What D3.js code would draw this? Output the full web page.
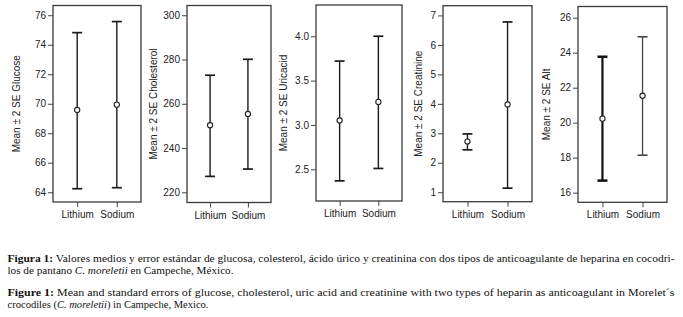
<!DOCTYPE html>
<html>
<head>
<meta charset="utf-8">
<script src="https://cdn.jsdelivr.net/npm/d3@7"></script>
<style>
  body { margin: 0; background: #fff; }
  svg { display: block; }
</style>
</head>
<body>
<svg id="chart" width="683" height="317"></svg>
<script>
// groups on the x axis of every panel
const groups = ["Lithium", "Sodium"];

// mean, lower (mean - 2SE) and upper (mean + 2SE)
const glucoseMean = [69.58, 69.94];
const glucoseLow = [64.24, 64.31];
const glucoseHigh = [74.82, 75.57];

const cholesterolMean = [250.3, 255.4];
const cholesterolLow = [227.2, 230.5];
const cholesterolHigh = [272.9, 280.1];

const uricMean = [3.05, 3.26];
const uricLow = [2.37, 2.51];
const uricHigh = [3.72, 4.0];

const creatinineMean = [2.72, 3.98];
const creatinineLow = [2.44, 1.14];
const creatinineHigh = [2.98, 6.78];

const altMean = [20.23, 21.54];
const altLow = [16.69, 18.14];
const altHigh = [23.77, 24.91];

// tick labels
const glucoseTicks = [64, 66, 68, 70, 72, 74, 76];
const cholesterolTicks = [220, 240, 260, 280, 300];
const uricTicks = [2.5, 3.0, 3.5, 4.0];
const creatinineTicks = [1, 2, 3, 4, 5, 6, 7];
const altTicks = [16, 18, 20, 22, 24, 26];

const yLabels = ["Mean \u00b1 2 SE Glucose", "Mean \u00b1 2 SE Cholesterol",
  "Mean \u00b1 2 SE Uricacid", "Mean \u00b1 2 SE Creatinine", "Mean \u00b1 2 SE Alt"];

const svg = d3.select("#chart");

// layout of each little panel
const panels = [
  {x0: 53, x1: 141, y0: 5.5, y1: 202, domain: [63.34, 76.66], ticks: glucoseTicks, fmt: d3.format("d"), lab: 33,
   mean: glucoseMean, lo: glucoseLow, hi: glucoseHigh},
  {x0: 187, x1: 271, y0: 5.5, y1: 202.5, domain: [215.4, 304.4], ticks: cholesterolTicks, fmt: d3.format("d"), lab: 30,
   mean: cholesterolMean, lo: cholesterolLow, hi: cholesterolHigh},
  {x0: 316, x1: 402, y0: 5, y1: 201, domain: [2.143, 4.352], ticks: uricTicks, fmt: d3.format(".1f"), lab: 29,
   mean: uricMean, lo: uricLow, hi: uricHigh},
  {x0: 443, x1: 532, y0: 5.7, y1: 201.7, domain: [0.68, 7.33], ticks: creatinineTicks, fmt: d3.format("d"), lab: 21,
   mean: creatinineMean, lo: creatinineLow, hi: creatinineHigh},
  {x0: 578, x1: 667, y0: 6.5, y1: 202.3, domain: [15.45, 26.64], ticks: altTicks, fmt: d3.format("d"), lab: 28,
   mean: altMean, lo: altLow, hi: altHigh, styles: [{c: "#111", w: 2.2}, {c: "#444", w: 1.3}]}
];

panels.forEach((p, i) => {
  const y = d3.scaleLinear().domain(p.domain).range([p.y1, p.y0]);
  const x = d3.scalePoint().domain(groups).range([p.x0, p.x1]).padding(0.61);
  const g = svg.append("g");

  // y axis
  const ya = g.append("g")
    .attr("transform", `translate(${p.x0},0)`)
    .call(d3.axisLeft(y).tickValues(p.ticks).tickFormat(p.fmt).tickSize(5).tickPadding(2));
  ya.select(".domain").remove();
  ya.selectAll("line").attr("stroke", "#444");
  ya.selectAll("text").attr("font-family", "Liberation Sans, Arial, sans-serif")
    .attr("font-size", 10).attr("fill", "#222");

  // x axis
  const xa = g.append("g")
    .attr("transform", `translate(0,${p.y1})`)
    .call(d3.axisBottom(x).tickSize(5).tickPadding(4));
  xa.select(".domain").remove();
  xa.selectAll("line").attr("stroke", "#444");
  xa.selectAll("text").attr("font-family", "Liberation Sans, Arial, sans-serif")
    .attr("font-size", 10).attr("fill", "#222");

  // frame
  g.append("rect")
    .attr("x", p.x0).attr("y", p.y0)
    .attr("width", p.x1 - p.x0).attr("height", p.y1 - p.y0)
    .attr("fill", "none").attr("stroke", "#3a3a3a").attr("stroke-width", 1.3);

  // y label
  g.append("text")
    .attr("transform", `translate(${p.x0 - p.lab},${(p.y0 + p.y1) / 2}) rotate(-90)`)
    .attr("text-anchor", "middle")
    .attr("font-family", "Liberation Sans, Arial, sans-serif")
    .attr("font-size", 10).attr("fill", "#222")
    .text(yLabels[i]);

  // error bars
  const bars = g.selectAll(".bar").data(groups).enter().append("g");
  const sty = (j) => p.styles ? p.styles[j] : {c: "#1a1a1a", w: 1.4};
  bars.append("line")
    .attr("x1", d => x(d)).attr("x2", d => x(d))
    .attr("y1", (d, j) => y(p.lo[j])).attr("y2", (d, j) => y(p.hi[j]))
    .attr("stroke", (d, j) => sty(j).c).attr("stroke-width", (d, j) => sty(j).w);
  [p.lo, p.hi].forEach(arr => {
    bars.append("line")
      .attr("x1", d => x(d) - 5).attr("x2", d => x(d) + 5)
      .attr("y1", (d, j) => y(arr[j])).attr("y2", (d, j) => y(arr[j]))
      .attr("stroke", (d, j) => sty(j).c).attr("stroke-width", (d, j) => sty(j).w + 0.3);
  });
  bars.append("circle")
    .attr("cx", d => x(d)).attr("cy", (d, j) => y(p.mean[j]))
    .attr("r", 2.6)
    .attr("fill", "#fff").attr("stroke", "#222").attr("stroke-width", 1.1);
});

// captions
const cap = svg.append("g")
  .attr("font-family", "Liberation Serif, Times New Roman, serif")
  .attr("font-size", 10.5).attr("fill", "#111");

function capLine(yy, parts, len) {
  const t = cap.append("text").attr("x", 7.5).attr("y", yy);
  if (len) t.attr("textLength", len).attr("lengthAdjust", "spacingAndGlyphs");
  parts.forEach(pt => {
    const s = t.append("tspan").text(pt[0]);
    if (pt[1] === "b") s.attr("font-weight", "bold");
    if (pt[1] === "i") s.attr("font-style", "italic");
  });
}

capLine(262, [["Figura 1:", "b"], [" Valores medios y error est\u00e1ndar de glucosa, colesterol, \u00e1cido \u00farico y creatinina con dos tipos de anticoagulante de heparina en cocodri-"]], 667);
capLine(274, [["los de pantano "], ["C. moreletii", "i"], [" en Campeche, M\u00e9xico."]], 226);
capLine(296, [["Figure 1:", "b"], [" Mean and standard errors of glucose, cholesterol, uric acid and  creatinine with two types of heparin as anticoagulant in Morelet\u00b4s"]], 667);
capLine(308, [["crocodiles ("], ["C. moreletii", "i"], [") in Campeche, Mexico."]], 201);
</script>
</body>
</html>
